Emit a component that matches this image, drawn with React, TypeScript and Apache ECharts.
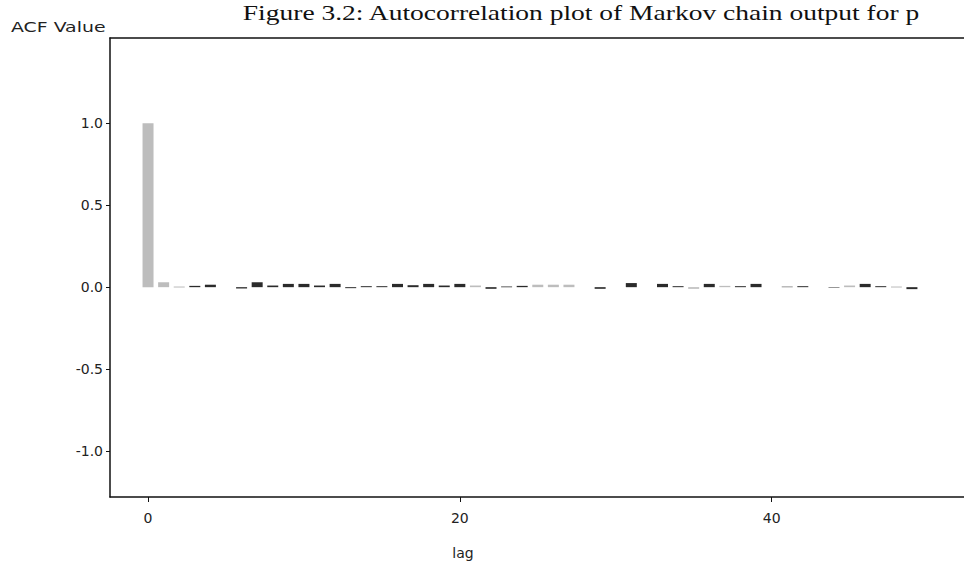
import React, { useEffect, useRef } from "react";
import * as echarts from "echarts";

const TITLE = "Figure 3.2: Autocorrelation plot of Markov chain output for p";
const Y_NAME = "ACF Value";
const X_NAME = "lag";

const LAGS = [
  0, 1, 2, 3, 4, 5, 6, 7, 8, 9, 10, 11, 12, 13, 14, 15, 16, 17, 18, 19, 20,
  21, 22, 23, 24, 25, 26, 27, 28, 29, 30, 31, 32, 33, 34, 35, 36, 37, 38, 39, 40,
  41, 42, 43, 44, 45, 46, 47, 48, 49, 50,
];
const ACF = [
  1.0, 0.03, 0.002, 0.008, 0.015, 0.0, -0.008, 0.03, 0.01, 0.02, 0.02,
  0.01, 0.02, -0.006, 0.006, 0.006, 0.02, 0.012, 0.02, 0.01, 0.02,
  0.01, -0.01, 0.004, 0.008, 0.015, 0.015, 0.015, 0.0, -0.01, 0.0,
  0.025, 0.0, 0.02, 0.006, -0.01, 0.02, 0.008, 0.006, 0.02, 0.0,
  0.003, 0.006, 0.0, -0.003, 0.01, 0.02, 0.006, 0.002, -0.012, 0.0,
];
const X_TICKS = [0, 20, 40];
const Y_TICKS = [-1.0, -0.5, 0.0, 0.5, 1.0];
const LIGHT_LAGS = [0, 1, 21, 25, 26, 27, 35, 37, 45];

export default function App() {
  const ref = useRef<HTMLDivElement>(null);
  useEffect(() => {
    if (!ref.current) return;
    const chart = echarts.init(ref.current, null, { renderer: "svg" });
    const sans = "DejaVu Sans";
    const option: any = {
      animation: false,
      backgroundColor: "#ffffff",
      grid: { left: 110, right: 0, top: 38, bottom: 72 },
      graphic: [
        {
          type: "text",
          x: 581,
          y: 12,
          scaleX: 1.25,
          style: {
            text: TITLE,
            font: "22px 'Liberation Serif'",
            fill: "#111",
            textAlign: "center",
            textVerticalAlign: "middle",
          },
        },
        {
          type: "text",
          x: 11,
          y: 27,
          scaleX: 1.35,
          style: {
            text: Y_NAME,
            font: "14px 'DejaVu Sans'",
            fill: "#222",
            textAlign: "left",
            textVerticalAlign: "middle",
          },
        },
        {
          type: "text",
          x: 463,
          y: 553,
          style: {
            text: X_NAME,
            font: "14px 'DejaVu Sans'",
            fill: "#222",
            textAlign: "center",
            textVerticalAlign: "middle",
          },
        },
      ],
      xAxis: [
        {
          type: "value",
          position: "bottom",
          min: -2.44,
          max: 52.34,
          axisLine: { show: true, onZero: false, lineStyle: { color: "#111", width: 1.5 } },
          axisTick: { show: true, length: 5, customValues: X_TICKS, lineStyle: { color: "#111" } },
          axisLabel: {
            customValues: X_TICKS,
            margin: 14,
            fontSize: 14,
            fontFamily: sans,
            color: "#222",
          },
          splitLine: { show: false },
        },
        {
          type: "value",
          position: "top",
          min: -2.44,
          max: 52.34,
          axisLine: { show: true, onZero: false, lineStyle: { color: "#111", width: 1.5 } },
          axisTick: { show: false },
          axisLabel: { show: false },
          splitLine: { show: false },
        },
      ],
      yAxis: {
        type: "value",
        min: -1.28,
        max: 1.52,
        axisLine: { show: true, onZero: false, lineStyle: { color: "#111", width: 1.5 } },
        axisTick: { show: true, length: 4, customValues: Y_TICKS, lineStyle: { color: "#111" } },
        axisLabel: {
          customValues: Y_TICKS,
          margin: 7,
          fontSize: 14,
          fontFamily: sans,
          color: "#222",
          formatter: (v: number) => v.toFixed(1),
        },
        splitLine: { show: false },
      },
      series: [
        {
          type: "bar",
          xAxisIndex: 0,
          barWidth: 11,
          data: LAGS.map((l, i) => [l, ACF[i]]),
          itemStyle: {
            color: (p: any) =>
              LIGHT_LAGS.includes(LAGS[p.dataIndex]) ? "#bdbdbd" : "#2b2b2b",
          },
        },
      ],
    };
    chart.setOption(option);
    return () => chart.dispose();
  }, []);
  return (
    <div
      ref={ref}
      style={{ position: "fixed", left: 0, top: 0, width: 964, height: 569 }}
    />
  );
}
